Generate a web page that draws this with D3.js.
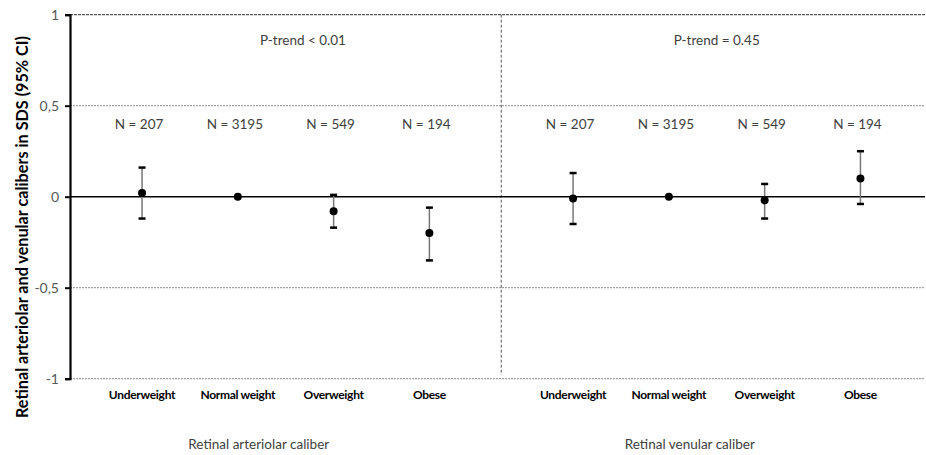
<!DOCTYPE html>
<html>
<head>
<meta charset="utf-8">
<script src="https://cdn.jsdelivr.net/npm/d3@7"></script>
<style>
  html, body { margin: 0; padding: 0; background: #fff; }
  svg { display: block; font-family: Lato, "Open Sans", sans-serif; }
</style>
</head>
<body>
<svg id="chart" width="926" height="455"></svg>
<script>
// Weight categories and their slot on the x axis (two groups of four)
const categories = ["Underweight", "Normal weight", "Overweight", "Obese",
                    "Underweight", "Normal weight", "Overweight", "Obese"];
const slots = [1, 2, 3, 4, 5.5, 6.5, 7.5, 8.5];
const groups = ["Retinal arteriolar caliber", "Retinal arteriolar caliber",
                "Retinal arteriolar caliber", "Retinal arteriolar caliber",
                "Retinal venular caliber", "Retinal venular caliber",
                "Retinal venular caliber", "Retinal venular caliber"];

// Differences in SDS with 95% CI (Normal weight is the reference)
const estimates = [0.02, 0, -0.08, -0.20, -0.01, 0, -0.02, 0.10];
const ciLower   = [-0.12, null, -0.17, -0.35, -0.15, null, -0.12, -0.04];
const ciUpper   = [0.16, null, 0.01, -0.06, 0.13, null, 0.07, 0.25];
const nLabels   = ["N = 207", "N = 3195", "N = 549", "N = 194",
                   "N = 207", "N = 3195", "N = 549", "N = 194"];

const groupNames  = ["Retinal arteriolar caliber", "Retinal venular caliber"];
const groupCenter = [2.25, 6.75];
const trendLabels = ["P-trend < 0.01", "P-trend = 0.45"];
const trendCenter = [2.68, 7.0];
const yTicks = [1, 0.5, 0, -0.5, -1];

const svg = d3.select("#chart");
const plotLeft = 70, plotRight = 925, plotTop = 14.7, plotBottom = 378.7;

const x = d3.scaleLinear().domain([0.248, 9.174]).range([plotLeft, plotRight]);
const y = d3.scaleLinear().domain([-1, 1]).range([plotBottom, plotTop]);
const fmt = v => String(v).replace(".", ",");

// Horizontal gridlines
svg.append("g").selectAll("line")
  .data(yTicks.filter(t => t !== 0))
  .join("line")
  .attr("x1", plotLeft).attr("x2", plotRight)
  .attr("y1", d => y(d)).attr("y2", d => y(d))
  .attr("stroke", d => d === 1 ? "#333" : "#8a8a8a")
  .attr("stroke-width", 1)
  .attr("stroke-dasharray", d => d === 1 ? "3,1" : "2,1");

// Separator between the two caliber groups
svg.append("line")
  .attr("x1", x(4.75)).attr("x2", x(4.75))
  .attr("y1", y(1)).attr("y2", y(-0.98))
  .attr("stroke", "#555").attr("stroke-width", 1)
  .attr("stroke-dasharray", "3,2");

// Zero line
svg.append("line")
  .attr("x1", plotLeft).attr("x2", plotRight)
  .attr("y1", y(0)).attr("y2", y(0))
  .attr("stroke", "#000").attr("stroke-width", 1.5);

// Y axis
const yAxis = d3.axisLeft(y).tickValues(yTicks).tickFormat(fmt)
  .tickSize(5).tickPadding(6);
const gy = svg.append("g").attr("transform", `translate(${plotLeft},0)`).call(yAxis);
gy.select(".domain").attr("stroke", "#000").attr("stroke-width", 2.2);
gy.selectAll(".tick line").attr("stroke", "#000").attr("stroke-width", 2);
gy.selectAll(".tick text").attr("fill", "#595959")
  .attr("font-size", 14).attr("font-family", "Lato, 'Open Sans', sans-serif");

// Y axis title
svg.append("text")
  .attr("transform", `translate(24,227) rotate(-90)`)
  .attr("text-anchor", "middle").attr("dominant-baseline", "middle")
  .attr("font-size", 16.2).attr("font-weight", "bold").attr("fill", "#000")
  .text("Retinal arteriolar and venular calibers in SDS (95% CI)");

// Rows for marks
const rows = categories.map((c, i) => ({
  cat: c, slot: slots[i], group: groups[i], est: estimates[i],
  lo: ciLower[i], hi: ciUpper[i], n: nLabels[i]
}));

// Error bars with caps
const eb = svg.append("g").selectAll("g")
  .data(rows.filter(d => d.lo !== null))
  .join("g");
eb.append("line")
  .attr("x1", d => x(d.slot)).attr("x2", d => x(d.slot))
  .attr("y1", d => y(d.lo)).attr("y2", d => y(d.hi))
  .attr("stroke", "#777").attr("stroke-width", 1.5);
eb.selectAll("line.cap")
  .data(d => [{s: d.slot, v: d.lo}, {s: d.slot, v: d.hi}])
  .join("line").attr("class", "cap")
  .attr("x1", d => x(d.s) - 3.5).attr("x2", d => x(d.s) + 3.5)
  .attr("y1", d => y(d.v)).attr("y2", d => y(d.v))
  .attr("stroke", "#000").attr("stroke-width", 2.5);

// Point estimates
svg.append("g").selectAll("circle")
  .data(rows).join("circle")
  .attr("cx", d => x(d.slot)).attr("cy", d => y(d.est))
  .attr("r", 4).attr("fill", "#000");

// Sample sizes
svg.append("g").selectAll("text")
  .data(rows).join("text")
  .attr("x", d => x(d.slot) - 3).attr("y", y(0.39))
  .attr("text-anchor", "middle").attr("dominant-baseline", "middle")
  .attr("font-size", 13.5).attr("fill", "#404040")
  .text(d => d.n);

// P-trend annotations
svg.append("g").selectAll("text")
  .data(trendLabels).join("text")
  .attr("x", (d, i) => x(trendCenter[i])).attr("y", y(0.855))
  .attr("text-anchor", "middle").attr("dominant-baseline", "middle")
  .attr("font-size", 13.5).attr("fill", "#404040")
  .text(d => d);

// Category labels
svg.append("g").selectAll("text")
  .data(rows).join("text")
  .attr("x", d => x(d.slot)).attr("y", 396)
  .attr("text-anchor", "middle").attr("dominant-baseline", "middle")
  .attr("font-size", 12).attr("font-weight", "bold").attr("fill", "#000")
  .attr("letter-spacing", -0.3)
  .text(d => d.cat);

// Group labels
svg.append("g").selectAll("text")
  .data(groupNames).join("text")
  .attr("x", (d, i) => x(groupCenter[i]) - 3).attr("y", 446)
  .attr("text-anchor", "middle").attr("dominant-baseline", "middle")
  .attr("font-size", 13.5).attr("fill", "#404040")
  .text(d => d);
</script>
</body>
</html>
